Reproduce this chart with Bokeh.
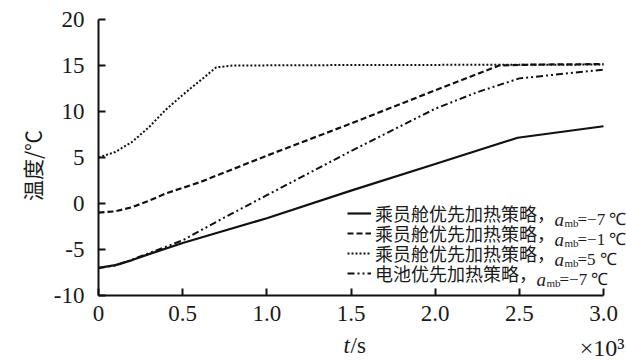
import math
from bokeh.plotting import figure
from bokeh.models import Legend, LegendItem, Label, FixedTicker, Range1d
from bokeh.embed import file_html
from bokeh.resources import INLINE

# ---- data (time in 10^3 s, temperature in degC) ----
t_cabin_m7 = [0, 0.1, 0.2, 0.3, 0.5, 1.0, 1.5, 2.0, 2.49, 3.0]
y_cabin_m7 = [-7.0, -6.7, -6.15, -5.5, -4.3, -1.6, 1.4, 4.3, 7.15, 8.4]

t_cabin_m1 = [0, 0.1, 0.2, 0.3, 0.4, 0.6, 1.0, 1.5, 2.0, 2.38, 2.6, 3.0]
y_cabin_m1 = [-1.0, -0.85, -0.4, 0.3, 1.1, 2.3, 5.2, 8.7, 12.3, 15.0, 15.1, 15.15]

t_cabin_p5 = [0, 0.1, 0.2, 0.3, 0.4, 0.5, 0.6, 0.7, 0.8, 1.5, 3.0]
y_cabin_p5 = [5.0, 5.6, 6.7, 8.3, 10.2, 11.8, 13.3, 14.8, 15.0, 15.05, 15.1]

t_batt_m7 = [0, 0.1, 0.2, 0.3, 0.5, 0.75, 1.0, 1.5, 2.0, 2.25, 2.5, 3.0]
y_batt_m7 = [-7.0, -6.75, -6.1, -5.4, -4.0, -1.5, 0.9, 5.7, 10.3, 12.1, 13.6, 14.55]

legend_names = ["乘员舱优先加热策略，", "乘员舱优先加热策略，", "乘员舱优先加热策略，", "电池优先加热策略，"]
legend_values = ["=−7 ℃", "=−1 ℃", "=5 ℃", "=−7 ℃"]

x_ticks = [0, 0.5, 1, 1.5, 2, 2.5, 3]
x_tick_labels = ["0", "0.5", "1.0", "1.5", "2.0", "2.5", "3.0"]
y_ticks = [-10, -5, 0, 5, 10, 15, 20]
y_tick_labels = ["-10", "-5", "0", "5", "10", "15", "20"]

SERIF = "Liberation Serif"
CJK = "Noto Sans CJK SC"
INK = "#1a1a1a"

W, H = 626, 360
X0_PX, X3_PX = 98, 603     # pixel of x=0 and x=3.0
Y20_PX, YM10_PX = 19, 295  # pixel of y=20 and y=-10
kx = 3.0 / (X3_PX - X0_PX)
ky = 30.0 / (YM10_PX - Y20_PX)

def dx(px):
    return (px - X0_PX) * kx

def dy(py):
    return 20 - (py - Y20_PX) * ky

p = figure(width=W, height=H, output_backend="svg", toolbar_location=None,
           x_range=Range1d(dx(0), dx(W)), y_range=Range1d(dy(H), dy(0)),
           min_border_left=0, min_border_right=0, min_border_top=0, min_border_bottom=0,
           background_fill_color="white", border_fill_color="white")
p.outline_line_color = None
p.grid.visible = False

for ax in (p.xaxis[0], p.yaxis[0]):
    ax.axis_line_width = 2
    ax.axis_line_color = "#111111"
    ax.major_tick_line_width = 2
    ax.major_tick_line_color = "#111111"
    ax.major_tick_in = 7
    ax.major_tick_out = 0
    ax.minor_tick_line_color = None
    ax.major_label_text_font = SERIF
    ax.major_label_text_font_size = "23px"
    ax.major_label_text_color = INK

p.xaxis.ticker = FixedTicker(ticks=x_ticks)
p.xaxis.major_label_overrides = dict(zip(x_ticks, x_tick_labels))
p.xaxis.major_label_standoff = 10
p.xaxis.bounds = (0, 3)
p.xaxis.fixed_location = -10

p.yaxis.ticker = FixedTicker(ticks=y_ticks)
p.yaxis.major_label_overrides = dict(zip(y_ticks, y_tick_labels))
p.yaxis.major_label_standoff = 14
p.yaxis.bounds = (-10, 20)
p.yaxis.fixed_location = 0

r1 = p.line(t_cabin_m7, y_cabin_m7, line_color="#111111", line_width=2.2)
r2 = p.line(t_cabin_m1, y_cabin_m1, line_color="#111111", line_width=2.2, line_dash="6 3")
r3 = p.line(t_cabin_p5, y_cabin_p5, line_color="#111111", line_width=2, line_dash="2 2")
r4 = p.line(t_batt_m7, y_batt_m7, line_color="#111111", line_width=2, line_dash="7 3 2 3 2 3")

ITEM_H = 26
text_start = 347 + 24 + 4
for i, (name, val, r) in enumerate(zip(legend_names, legend_values, [r1, r2, r3, r4])):
    center = 213 + 20 * i
    leg = Legend(items=[LegendItem(label=name, renderers=[r])],
                 location=(347, H - center - ITEM_H // 2), border_line_color=None,
                 background_fill_alpha=0, padding=0, margin=0, spacing=0,
                 glyph_width=24, glyph_height=20, label_height=20, label_standoff=4,
                 label_text_font=CJK, label_text_font_size="18px", label_text_color=INK)
    p.add_layout(leg)
    base = center + 6
    ax_ = text_start + len(name) * 18 - 1
    p.add_layout(Label(x=dx(ax_), y=dy(base), text="a", text_font=SERIF, text_font_style="italic",
                       text_font_size="19px", text_baseline="alphabetic", text_color=INK))
    p.add_layout(Label(x=dx(ax_ + 10), y=dy(base + 3), text="mb", text_font=SERIF,
                       text_font_size="11px", text_baseline="alphabetic", text_color=INK))
    p.add_layout(Label(x=dx(ax_ + 23), y=dy(base), text=val, text_font=SERIF,
                       text_font_size="17px", text_baseline="alphabetic", text_color=INK))

# axis titles and the scale factor
p.add_layout(Label(x=dx(31), y=dy(165), text="温度/℃", text_font=CJK, text_font_size="21px",
                   angle=math.pi / 2, text_align="center", text_baseline="middle", text_color=INK))
p.add_layout(Label(x=dx(343), y=dy(345), text="t", text_font=SERIF, text_font_style="italic",
                   text_font_size="23px", text_baseline="alphabetic", text_color=INK))
p.add_layout(Label(x=dx(350), y=dy(345), text="/s", text_font=SERIF,
                   text_font_size="23px", text_baseline="alphabetic", text_color=INK))
p.add_layout(Label(x=dx(624), y=dy(347), text="×10³", text_font=SERIF, text_font_size="24px",
                   text_align="right", text_baseline="alphabetic", text_color=INK))

open("out.html", "w").write(file_html(p, INLINE))
